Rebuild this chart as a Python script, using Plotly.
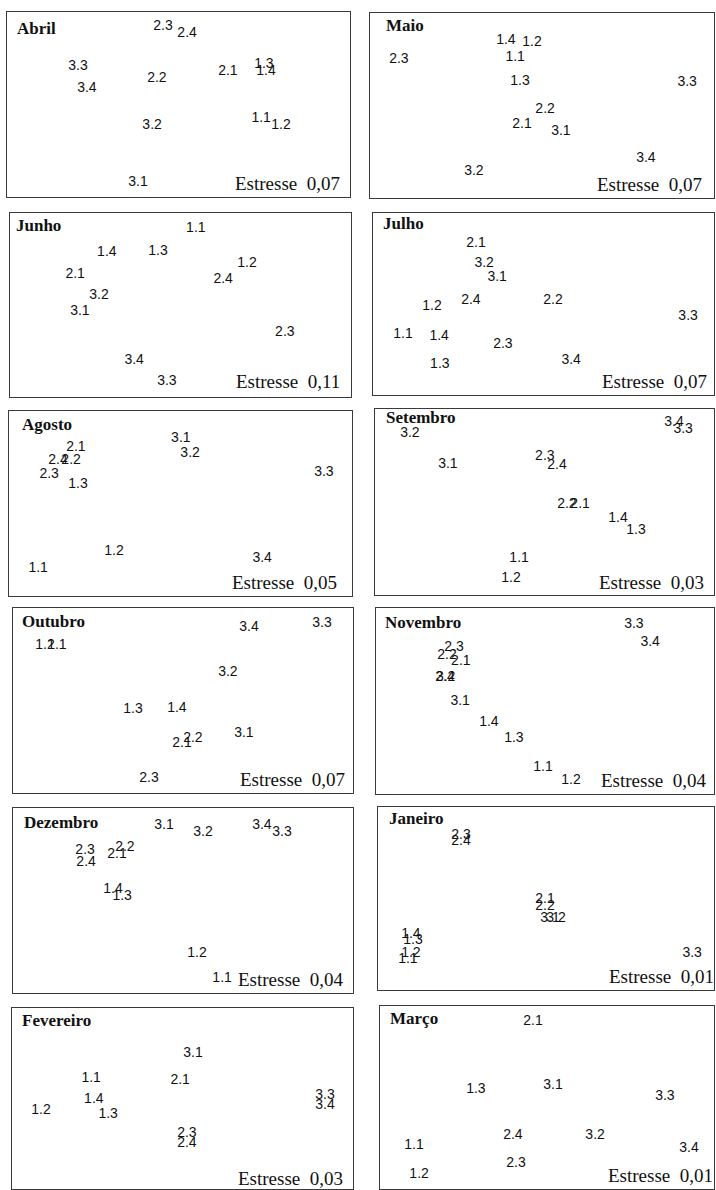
import plotly.graph_objects as go

# Monthly MDS ordinations: each point is (sample label, dimension 1, dimension 2),
# both dimensions scaled to 0-100 across the panel.
MONTHS = ["Abril", "Maio", "Junho", "Julho", "Agosto", "Setembro",
          "Outubro", "Novembro", "Dezembro", "Janeiro", "Fevereiro", "Março"]
STRESS = [0.07, 0.07, 0.11, 0.07, 0.05, 0.03, 0.07, 0.04, 0.04, 0.01, 0.03, 0.01]

ABRIL = [("2.3", 45.5, 91.9), ("2.4", 52.5, 88.6), ("3.3", 20.7, 70.3), ("3.4", 23.3, 58.4),
         ("2.2", 43.7, 63.8), ("2.1", 64.4, 68.1), ("1.3", 74.9, 71.4), ("1.4", 75.5, 68.1),
         ("3.2", 42.3, 38.9), ("1.1", 74.1, 42.2), ("1.2", 79.9, 38.4), ("3.1", 38.2, 8.1)]
MAIO = [("1.4", 39.5, 85.4), ("1.2", 47.1, 84.3), ("2.3", 8.4, 74.6), ("1.1", 42.2, 75.7),
        ("1.3", 43.6, 63.2), ("3.3", 92.2, 62.7), ("2.2", 50.9, 47.6), ("2.1", 44.2, 40.0),
        ("3.1", 55.5, 36.2), ("3.4", 80.2, 21.6), ("3.2", 30.2, 14.1)]
JUNHO = [("1.1", 54.5, 91.8), ("1.4", 28.4, 78.8), ("1.3", 43.4, 79.3), ("1.2", 69.5, 72.8),
         ("2.1", 19.1, 66.8), ("2.4", 62.5, 64.1), ("3.2", 26.1, 54.9), ("3.1", 20.5, 46.2),
         ("2.3", 80.6, 35.3), ("3.4", 36.4, 20.1), ("3.3", 46.0, 8.2)]
JULHO = [("2.1", 30.2, 83.5), ("3.2", 32.6, 72.0), ("3.1", 36.4, 64.3), ("2.4", 28.7, 52.2),
         ("2.2", 52.8, 52.2), ("1.2", 17.3, 48.9), ("3.3", 92.4, 43.4), ("1.1", 8.8, 33.5),
         ("1.4", 19.4, 32.4), ("2.3", 38.1, 27.5), ("3.4", 58.1, 18.7), ("1.3", 19.6, 16.5)]
AGOSTO = [("3.1", 50.1, 85.4), ("2.1", 19.5, 80.5), ("3.2", 52.8, 76.8), ("2.4", 14.3, 73.5),
          ("2.2", 18.1, 73.0), ("2.3", 11.7, 65.9), ("3.3", 91.8, 66.5), ("1.3", 20.1, 60.5),
          ("1.2", 30.6, 23.8), ("3.4", 73.8, 20.5), ("1.1", 8.5, 14.6)]
SETEMBRO = [("3.2", 10.3, 86.6), ("3.4", 88.2, 92.5), ("3.3", 90.9, 89.2), ("3.1", 21.5, 69.9),
            ("2.3", 50.1, 74.7), ("2.4", 53.7, 69.4), ("2.2", 56.6, 48.9), ("2.1", 60.5, 48.9),
            ("1.4", 71.7, 41.4), ("1.3", 77.0, 34.9), ("1.1", 42.5, 19.4), ("1.2", 40.1, 9.1)]
OUTUBRO = [("3.4", 69.4, 89.2), ("3.3", 90.9, 91.4), ("1.2", 9.4, 79.5), ("1.1", 12.9, 80.0),
           ("3.2", 63.2, 64.9), ("1.3", 35.3, 44.9), ("1.4", 48.2, 45.9), ("3.1", 67.9, 31.9),
           ("2.2", 52.9, 29.7), ("2.1", 49.7, 26.5), ("2.3", 40.0, 7.6)]
NOVEMBRO = [("3.3", 76.3, 91.4), ("3.4", 81.1, 81.7), ("2.3", 23.1, 79.0), ("2.2", 21.0, 74.2),
            ("2.1", 25.1, 71.0), ("2.4", 20.4, 62.4), ("3.2", 20.6, 62.4), ("3.1", 24.9, 49.5),
            ("1.4", 33.4, 38.7), ("1.3", 40.8, 29.6), ("1.1", 49.4, 14.5), ("1.2", 57.7, 7.5)]
DEZEMBRO = [("3.1", 44.4, 90.3), ("3.2", 55.9, 86.5), ("3.4", 73.2, 90.8), ("3.3", 79.1, 86.5),
            ("2.3", 21.2, 76.8), ("2.4", 21.5, 70.8), ("2.2", 32.9, 78.9), ("2.1", 30.6, 75.1),
            ("1.4", 29.4, 55.7), ("1.3", 32.1, 51.9), ("1.2", 54.1, 21.6), ("1.1", 61.5, 7.6)]
JANEIRO = [("2.3", 24.7, 84.7), ("2.4", 24.7, 80.9), ("2.1", 49.7, 49.2), ("2.2", 49.7, 45.9),
           ("3.1", 51.2, 39.3), ("3.2", 53.0, 39.3), ("1.4", 9.8, 30.6), ("1.3", 10.4, 27.3),
           ("1.2", 9.8, 20.2), ("1.1", 8.9, 16.9), ("3.3", 93.5, 20.2)]
FEVEREIRO = [("3.1", 53.1, 74.6), ("1.1", 23.2, 61.3), ("2.1", 49.3, 60.2), ("1.4", 24.0, 49.2),
             ("1.2", 8.5, 43.1), ("1.3", 28.2, 40.9), ("3.3", 91.8, 51.4), ("3.4", 91.8, 45.9),
             ("2.3", 51.3, 30.9), ("2.4", 51.3, 25.4)]
MARCO = [("2.1", 45.8, 91.3), ("1.3", 28.7, 54.6), ("3.1", 51.8, 56.8), ("3.3", 85.3, 50.3),
         ("2.4", 39.8, 29.5), ("3.2", 64.4, 29.0), ("1.1", 10.2, 24.0), ("3.4", 92.5, 21.9),
         ("2.3", 40.7, 14.2), ("1.2", 11.7, 7.7)]

POINTS = [ABRIL, MAIO, JUNHO, JULHO, AGOSTO, SETEMBRO,
          OUTUBRO, NOVEMBRO, DEZEMBRO, JANEIRO, FEVEREIRO, MARCO]

# ---- page layout (pixels) ----
PAGE_W, PAGE_H = 716, 1190
# panel frames: left, top, right, bottom
BOXES = [(7, 12, 350, 197), (370, 13, 714, 198),
         (10, 213, 351, 397), (373, 213, 714, 395),
         (9, 411, 352, 596), (375, 409, 714, 595),
         (13, 608, 353, 793), (376, 608, 714, 794),
         (13, 808, 353, 993), (378, 807, 714, 990),
         (12, 1008, 353, 1189), (380, 1006, 714, 1189)]
# month name: left edge, vertical centre
TITLE_POS = [(15, 28), (384, 25), (14, 225), (381, 223), (20, 424), (384, 418),
             (20, 621), (383, 622), (22, 822), (387, 818), (20, 1020), (388, 1018)]
# stress note: right edge, vertical centre
STRESS_POS = [(342, 183), (704, 184), (342, 382), (709, 382), (339, 582), (706, 582),
              (347, 779), (709, 780), (346, 979), (716, 976), (345, 1178), (715, 1175)]

INK = "#111111"
FRAME = "#3a3a3a"

fig = go.Figure()
annotations = []

for i, (month, pts) in enumerate(zip(MONTHS, POINTS)):
    n = i + 1
    xa = "x" if n == 1 else f"x{n}"
    ya = "y" if n == 1 else f"y{n}"
    fig.add_trace(go.Scatter(
        x=[p[1] for p in pts], y=[p[2] for p in pts], text=[p[0] for p in pts],
        mode="text", textposition="middle center",
        textfont=dict(family="Liberation Sans, Arial, sans-serif", size=14, color=INK),
        hoverinfo="skip", showlegend=False, xaxis=xa, yaxis=ya, cliponaxis=False,
    ))
    L, T, R, B = BOXES[i]
    axis_style = dict(showgrid=False, zeroline=False, showticklabels=False, ticks="",
                      showline=True, linecolor=FRAME, linewidth=1.3, mirror=True,
                      fixedrange=True, range=[0, 100])
    fig.layout[f"xaxis{'' if n == 1 else n}"] = dict(
        domain=[L / PAGE_W, R / PAGE_W], anchor=ya, **axis_style)
    fig.layout[f"yaxis{'' if n == 1 else n}"] = dict(
        domain=[1 - B / PAGE_H, 1 - T / PAGE_H], anchor=xa, **axis_style)

    tx, ty = TITLE_POS[i]
    annotations.append(dict(
        text=month, xref="paper", yref="paper", x=tx / PAGE_W, y=1 - ty / PAGE_H,
        xanchor="left", yanchor="middle", showarrow=False,
        font=dict(family="Liberation Serif, Times New Roman, serif", size=17,
                  color="#111111", weight="bold")))
    sx, sy = STRESS_POS[i]
    annotations.append(dict(
        text="Estresse \u00a0" + f"{STRESS[i]:.2f}".replace(".", ","),
        xref="paper", yref="paper", x=sx / PAGE_W, y=1 - sy / PAGE_H,
        xanchor="right", yanchor="middle", showarrow=False,
        font=dict(family="Liberation Serif, Times New Roman, serif", size=19,
                  color="#111111")))

fig.update_layout(
    width=PAGE_W, height=PAGE_H,
    margin=dict(l=0, r=0, t=0, b=0),
    paper_bgcolor="white", plot_bgcolor="white",
    annotations=annotations,
)

fig.write_html("out.html", config={"displayModeBar": False})
